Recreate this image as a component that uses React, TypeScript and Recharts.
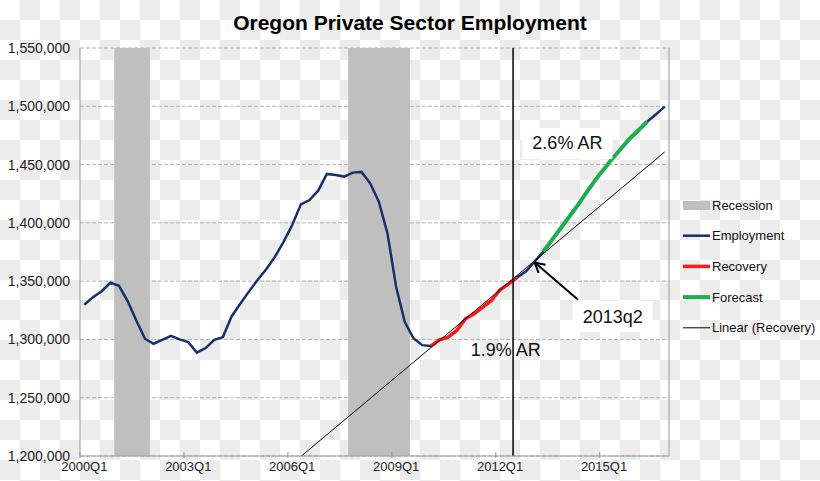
import React from 'react';
import {
  ComposedChart,
  Bar,
  Line,
  XAxis,
  YAxis,
  CartesianGrid,
  Legend,
  ReferenceLine,
  ReferenceDot,
} from 'recharts';

const FONT = '"Liberation Sans", Arial, sans-serif';

// 2000Q1 .. 2016Q4
const quarters: string[] = [];
for (let yr = 2000; yr <= 2016; yr++) {
  for (let q = 1; q <= 4; q++) quarters.push(`${yr}Q${q}`);
}

// private sector jobs
const employment = [
  1329700, 1336300, 1341400, 1348600, 1346000, 1332900, 1316300, 1300600,
  1296300, 1299700, 1303100, 1300000, 1297700, 1288600, 1292600, 1299700,
  1302000, 1319700, 1330600, 1341000, 1351000, 1360200, 1370800, 1383700,
  1398100, 1415900, 1419600, 1427600, 1442000, 1441100, 1439700, 1443100,
  1443700, 1433900, 1418200, 1390900, 1345000, 1314900, 1301000, 1295100,
  1294300, 1299700, 1302000, 1307700, 1317700, 1322000, 1327700, 1333400,
  1342600, 1347700, 1353400, 1358500, 1367000, 1375400, 1385400, 1395400,
  1405400, 1415400, 1426300, 1436900, 1446300, 1455400, 1464000, 1472600,
  1479700, 1486900, 1493100, 1499700,
];

const recoveryRange = ['2010Q1', '2012Q3'];
const forecastRange = ['2013Q2', '2016Q2'];

const recessionQuarters = [
  '2001Q1', '2001Q2', '2001Q3', '2001Q4',
  '2007Q4', '2008Q1', '2008Q2', '2008Q3', '2008Q4', '2009Q1', '2009Q2',
];

// end points of the Excel trendline
const linearQuarters = ['2006Q2', '2016Q4'];
const linearValues = [1199600, 1460800];

const Y_MIN = 1200000;
const Y_MAX = 1550000;
const yTicks = [1200000, 1250000, 1300000, 1350000, 1400000, 1450000, 1500000, 1550000];

const markerQuarter = '2012Q3';

const notes = [
  { text: '2.6% AR', x: '2014Q1', y: 1468500, box: true, dx: -2 },
  { text: '1.9% AR', x: '2012Q2', y: 1291500, box: false, dx: -3 },
  { text: '2013q2', x: '2015Q2', y: 1320000, box: true, dx: 0 },
];
const arrowFrom = { x: '2014Q2', y: 1334000 };
const arrowTo = { x: '2013Q1', y: 1366000 };

const legendItems = [
  { name: 'Recession', color: '#bfbfbf', kind: 'rect', width: 0 },
  { name: 'Employment', color: '#17306b', kind: 'line', width: 2.5 },
  { name: 'Recovery', color: '#ff1a1a', kind: 'line', width: 3.5 },
  { name: 'Forecast', color: '#1fae4f', kind: 'line', width: 4 },
  { name: 'Linear (Recovery)', color: '#000000', kind: 'line', width: 1 },
];

const inRange = (q: string, r: string[]) =>
  quarters.indexOf(q) >= quarters.indexOf(r[0]) && quarters.indexOf(q) <= quarters.indexOf(r[1]);

const data = quarters.map((q, i) => ({
  q,
  employment: employment[i],
  recovery: inRange(q, recoveryRange) ? employment[i] : null,
  forecast: inRange(q, forecastRange) ? employment[i] : null,
  recession: recessionQuarters.includes(q) ? Y_MAX : null,
  linear: linearQuarters.includes(q) ? linearValues[linearQuarters.indexOf(q)] : null,
}));

const W = 820;
const H = 481;
const MARGIN = { top: 48, right: 14, bottom: 0, left: 8 };
const PLOT_W = W - 80 - 151;
const BAND = PLOT_W / quarters.length;

function XTick(props: any) {
  const { x, y, payload } = props;
  const axisY = y - 6;
  const tx = x - BAND / 2;
  return (
    <g>
      <line x1={tx} x2={tx} y1={axisY - 4} y2={axisY + 2} stroke="#999" />
      <text x={x} y={y} dy="0.71em" textAnchor="middle" fontSize={13} fill="#222" fontFamily={FONT}>
        {payload.value}
      </text>
    </g>
  );
}

function NoteShape(props: any) {
  const { cx, cy, note } = props;
  const x = cx + note.dx;
  const w = note.text.length * 10 + 20;
  return (
    <g>
      {note.box && <rect x={x - w / 2} y={cy - 15} width={w} height={31} fill="#fff" />}
      <text x={x} y={cy} dy="0.36em" textAnchor="middle" fontSize={18} fill="#111" fontFamily={FONT}>
        {note.text}
      </text>
    </g>
  );
}

function ArrowShape(props: any) {
  const { x1, y1, x2, y2 } = props;
  const ang = Math.atan2(y2 - y1, x2 - x1);
  const len = 11;
  const a1 = ang + Math.PI - 0.5;
  const a2 = ang + Math.PI + 0.5;
  return (
    <g stroke="#000" strokeWidth={2} fill="none">
      <line x1={x1} y1={y1} x2={x2} y2={y2} />
      <polyline
        points={`${x2 + len * Math.cos(a1)},${y2 + len * Math.sin(a1)} ${x2},${y2} ${x2 + len * Math.cos(a2)},${y2 + len * Math.sin(a2)}`}
      />
    </g>
  );
}

function LegendBox() {
  return (
    <svg width={137} height={160}>
      {legendItems.map((it, i) => {
        const cy = 12 + i * 30.7;
        return (
          <g key={it.name}>
            {it.kind === 'rect' ? (
              <rect x={0} y={cy - 4} width={27} height={9} fill={it.color} />
            ) : (
              <line x1={0} x2={27} y1={cy} y2={cy} stroke={it.color} strokeWidth={it.width} />
            )}
            <text x={29} y={cy} dy="0.36em" fontSize={13} fill="#111" fontFamily={FONT}>
              {it.name}
            </text>
          </g>
        );
      })}
    </svg>
  );
}

export default function App() {
  return (
    <div
      style={{
        position: 'absolute',
        left: 0,
        top: 0,
        width: W,
        height: H,
        backgroundColor: '#fff',
        backgroundImage: 'conic-gradient(#ececec 25%, #fff 0 50%, #ececec 0 75%, #fff 0)',
        backgroundSize: '40px 40px',
        fontFamily: FONT,
      }}
    >
      <div
        style={{
          position: 'absolute',
          top: 11,
          left: 0,
          width: W,
          textAlign: 'center',
          fontWeight: 'bold',
          fontSize: 21,
          color: '#000',
        }}
      >
        Oregon Private Sector Employment
      </div>
      <ComposedChart width={W} height={H} data={data} margin={MARGIN} barCategoryGap={0} barGap={0}>
        <CartesianGrid vertical={false} stroke="#b4b4b4" strokeDasharray="4 2" />
        <XAxis
          dataKey="q"
          scale="band"
          interval={11}
          height={25}
          tickSize={6}
          tickMargin={0}
          tickLine={false}
          axisLine={{ stroke: '#999' }}
          tick={<XTick />}
        />
        <YAxis
          domain={[Y_MIN, Y_MAX]}
          ticks={yTicks}
          allowDataOverflow
          width={72}
          tickLine={false}
          tickMargin={4}
          axisLine={{ stroke: '#999' }}
          tick={{ fontSize: 14, fill: '#222', fontFamily: FONT }}
          tickFormatter={(v: number) => v.toLocaleString('en-US')}
        />
        <Legend
          layout="vertical"
          align="right"
          verticalAlign="top"
          width={137}
          wrapperStyle={{ left: 683, top: 193 }}
          content={() => <LegendBox />}
        />
        <Bar
          dataKey="recession"
          name="Recession"
          fill="#bfbfbf"
          stroke="#bfbfbf"
          strokeWidth={0.8}
          isAnimationActive={false}
        />
        <ReferenceLine x={quarters[quarters.length - 1]} position="end" stroke="#999" />
        <Line
          dataKey="employment"
          name="Employment"
          stroke="#17306b"
          strokeWidth={2.5}
          dot={false}
          isAnimationActive={false}
        />
        <Line
          dataKey="recovery"
          name="Recovery"
          stroke="#ff1a1a"
          strokeWidth={3.5}
          dot={false}
          isAnimationActive={false}
        />
        <Line
          dataKey="forecast"
          name="Forecast"
          stroke="#1fae4f"
          strokeWidth={4}
          dot={false}
          isAnimationActive={false}
        />
        <Line
          dataKey="linear"
          name="Linear (Recovery)"
          stroke="#000"
          strokeWidth={1}
          dot={false}
          connectNulls
          isAnimationActive={false}
        />
        <ReferenceLine x={markerQuarter} position="start" stroke="#000" strokeWidth={1.5} />
        {notes.map((n) => (
          <ReferenceDot
            key={n.text}
            x={n.x}
            y={n.y}
            r={0}
            shape={(p: any) => <NoteShape {...p} note={n} />}
          />
        ))}
        <ReferenceLine segment={[arrowFrom, arrowTo]} shape={(p: any) => <ArrowShape {...p} />} />
      </ComposedChart>
    </div>
  );
}
